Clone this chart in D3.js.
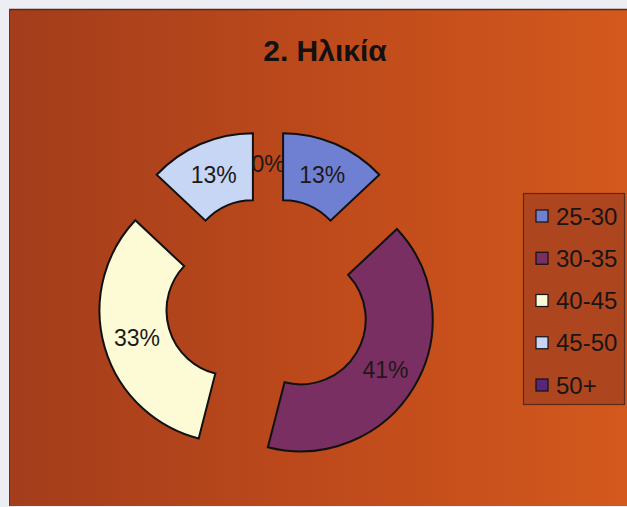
<!DOCTYPE html>
<html>
<head>
<meta charset="utf-8">
<script src="https://cdn.jsdelivr.net/npm/d3@7"></script>
<style>
  html, body { margin: 0; padding: 0; background: #eceef3; }
  svg { display: block; }
</style>
</head>
<body>
<svg id="chart" width="627" height="507"></svg>
<script>
// Age groups and their share (percent) of respondents
const categories = ["25-30", "30-35", "40-45", "45-50", "50+"];
const shares = [13, 41, 33, 13, 0];
const sliceColors = ["#6f80d2", "#7a2f62", "#fdfbd6", "#c6d6f4", "#57267a"];
const title = "2. Ηλικία";

const svg = d3.select("#chart");
const W = 627, H = 507;

// background panel with a warm left-to-right gradient
const defs = svg.append("defs");
const grad = defs.append("linearGradient").attr("id", "bg").attr("x1", 0).attr("x2", 1).attr("y1", 0).attr("y2", 0);
grad.append("stop").attr("offset", "0%").attr("stop-color", "#a33d1b");
grad.append("stop").attr("offset", "55%").attr("stop-color", "#c04b1b");
grad.append("stop").attr("offset", "100%").attr("stop-color", "#d3591d");

svg.append("rect").attr("x", 0).attr("y", 0).attr("width", W).attr("height", H).attr("fill", "#eceef3");
svg.append("rect").attr("x", 9).attr("y", 9).attr("width", W - 9).attr("height", 497).attr("fill", "url(#bg)");
svg.append("line").attr("x1", 9).attr("x2", W).attr("y1", 9.5).attr("y2", 9.5).attr("stroke", "#5a2a18").attr("stroke-width", 1.5);
svg.append("line").attr("x1", 9.5).attr("x2", 9.5).attr("y1", 9).attr("y2", 506).attr("stroke", "#6a3020").attr("stroke-width", 1);

svg.append("text")
  .attr("x", 325).attr("y", 61)
  .attr("text-anchor", "middle")
  .attr("font-family", "Liberation Sans, Arial, sans-serif")
  .attr("font-weight", "bold")
  .attr("font-size", 30)
  .attr("fill", "#141010")
  .text(title);

// exploded doughnut
const cx = 268, cy = 300;
const rOuter = 132, rInner = 65, explode = 38;
const pie = d3.pie().sort(null).value(d => d).startAngle(0).endAngle(2 * Math.PI);
const arcs = pie(shares);
const arc = d3.arc().innerRadius(rInner).outerRadius(rOuter);

const offset = a => {
  const mid = (a.startAngle + a.endAngle) / 2;
  return [explode * Math.sin(mid), -explode * Math.cos(mid)];
};

const g = svg.append("g").attr("transform", `translate(${cx},${cy})`);

g.selectAll("path.slice")
  .data(arcs.filter(a => a.value > 0))
  .join("path")
  .attr("class", "slice")
  .attr("transform", a => `translate(${offset(a)})`)
  .attr("d", arc)
  .attr("fill", a => sliceColors[a.index])
  .attr("stroke", "#111")
  .attr("stroke-width", 2)
  .attr("stroke-linejoin", "miter");

g.selectAll("text.pct")
  .data(arcs)
  .join("text")
  .attr("class", "pct")
  .attr("transform", a => {
    const [ox, oy] = offset(a);
    const [x, y] = arc.centroid(a);
    return `translate(${x + ox},${y + oy})`;
  })
  .attr("text-anchor", "middle")
  .attr("dy", "0.36em")
  .attr("font-family", "Liberation Sans, Arial, sans-serif")
  .attr("font-size", 23)
  .attr("fill", "#1e1818")
  .text(a => `${a.value}%`);

// legend
const legend = svg.append("g");
legend.append("rect")
  .attr("x", 523.5).attr("y", 193.5).attr("width", 101).attr("height", 211)
  .attr("fill", "#ad451f").attr("stroke", "#5a2a18").attr("stroke-width", 1.2);

const rowY = d3.scalePoint().domain(categories).range([216, 385]);
const items = legend.selectAll("g.item").data(categories).join("g")
  .attr("class", "item")
  .attr("transform", d => `translate(0,${rowY(d)})`);
items.append("rect")
  .attr("x", 536).attr("y", -6).attr("width", 12).attr("height", 12)
  .attr("fill", (d, i) => sliceColors[i])
  .attr("stroke", "#111").attr("stroke-width", 1.2);
items.append("text")
  .attr("x", 556).attr("y", 0).attr("dy", "0.36em")
  .attr("font-family", "Liberation Sans, Arial, sans-serif")
  .attr("font-size", 24)
  .attr("fill", "#1a1414")
  .text(d => d);
</script>
</body>
</html>
